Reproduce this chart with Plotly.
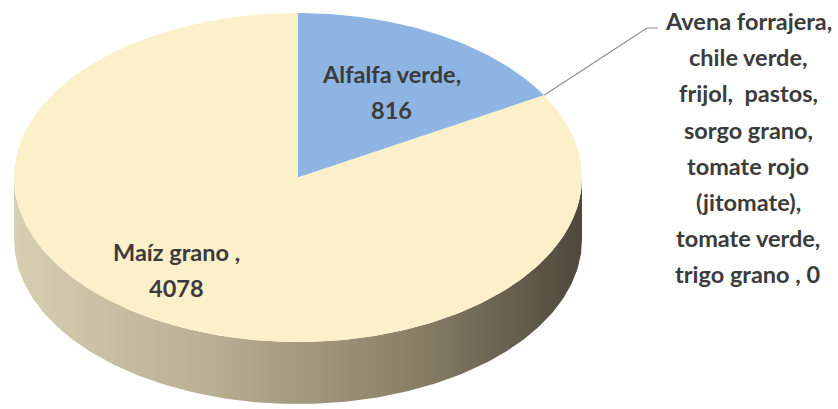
import numpy as np
import plotly.graph_objects as go

# Superficie sembrada por cultivo
categories = [
    "Alfalfa verde",
    "Avena forrajera, chile verde, frijol,  pastos, sorgo grano, tomate rojo (jitomate), tomate verde, trigo grano ",
    "Maíz grano ",
]
values = [816, 0, 4078]
label_lines = [
    ["Alfalfa verde,", "816"],
    ["Avena forrajera,", "chile verde,", "frijol,  pastos,", "sorgo grano,",
     "tomate rojo", "(jitomate),", "tomate verde,", "trigo grano , 0"],
    ["Maíz grano ,", "4078"],
]
slice_colors = ["#8db4e2", "#8db4e2", "#fcf0cb"]

# Geometry of the tilted disc (pixel space)
W, H = 838, 409
CX, CY = 298, 177.5
A, B = 284, 164.5
DEPTH = 62


def ellipse_pt(theta_deg, dy=0.0):
    t = np.radians(theta_deg)
    return CX + A * np.sin(t), CY - B * np.cos(t) + dy


fig = go.Figure()

# Side wall (front half of the disc)
th = np.linspace(90, 270, 200)
tx, ty = ellipse_pt(th)
bx, by = ellipse_pt(th[::-1], DEPTH)
fig.add_trace(go.Scatter(
    x=np.concatenate([tx, bx]), y=np.concatenate([ty, by]),
    mode="lines", fill="toself", line=dict(width=0),
    fillgradient=dict(type="horizontal",
                      colorscale=[[0, "#d8cfb2"], [0.35, "#b8ae92"],
                                  [0.7, "#8a8068"], [1, "#4e483d"]]),
    hoverinfo="skip", showlegend=False))

# Top face slices, clockwise from 12 o'clock
total = float(sum(values))
start = 0.0
angles = []
for cat, val, col in zip(categories, values, slice_colors):
    sweep = 360.0 * val / total
    angles.append((start, sweep))
    if val > 0:
        th = np.linspace(start, start + sweep, max(int(sweep * 2), 4))
        ex, ey = ellipse_pt(th)
        fig.add_trace(go.Scatter(
            x=np.concatenate([[CX], ex, [CX]]), y=np.concatenate([[CY], ey, [CY]]),
            mode="lines", fill="toself", fillcolor=col, line=dict(width=0),
            name=cat, hoverinfo="name", showlegend=False))
    start += sweep

text_font = dict(family="Lato, Calibri, sans-serif", size=23.5, color="#3b3b3b",
                 weight="bold")
LINE_GAP = 36.2


def add_label(lines, x, y_first):
    for k, line in enumerate(lines):
        fig.add_annotation(x=x, y=y_first + k * LINE_GAP, text=line,
                           showarrow=False, font=text_font,
                           xanchor="center", yanchor="middle")


# Labels inside the disc
add_label(label_lines[0], 391, 74)
add_label(label_lines[2], 176, 252)

# Leader line for the zero-sized slice
s0, _ = angles[1]
lx, ly = ellipse_pt(s0)
fig.add_trace(go.Scatter(x=[lx, 647, 658], y=[ly, 28, 28], mode="lines",
                         line=dict(color="#8c8c8c", width=1.2),
                         hoverinfo="skip", showlegend=False))
add_label(label_lines[1], 748, 21)

fig.update_xaxes(range=[0, W], visible=False, fixedrange=True)
fig.update_yaxes(range=[H, 0], visible=False, fixedrange=True)
fig.update_layout(width=W, height=H, margin=dict(l=0, r=0, t=0, b=0),
                  paper_bgcolor="white", plot_bgcolor="white")

fig.write_html("out.html")
